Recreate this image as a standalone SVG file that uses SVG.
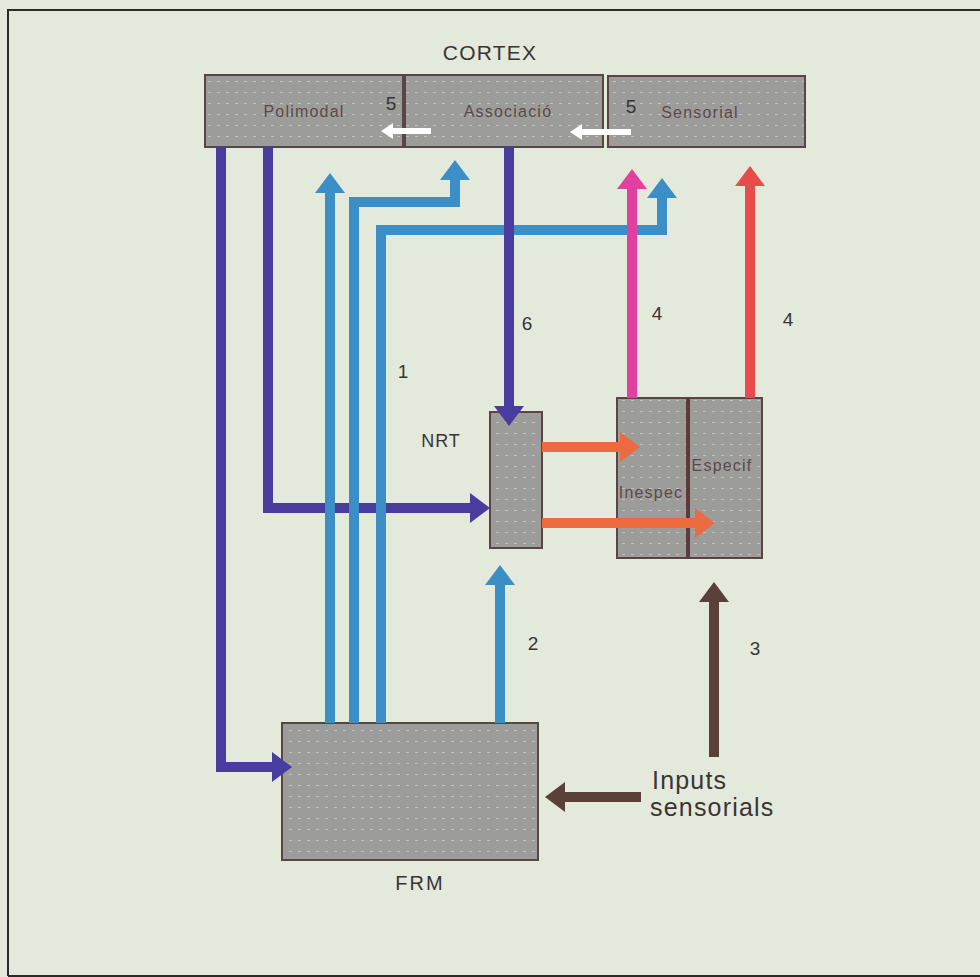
<svg xmlns="http://www.w3.org/2000/svg" width="980" height="977" viewBox="0 0 980 977">
<defs>
<style>
.box{fill:#9c9c9b;stroke:#5a4545;stroke-width:2}
.tex{fill:url(#dots);stroke:none}
.bt{font-family:"Liberation Sans",Arial,sans-serif;font-size:16px;letter-spacing:1.2px;fill:#5b4a48;text-anchor:middle}
.lbl{font-family:"Liberation Sans",Arial,sans-serif;fill:#3a3434;text-anchor:middle}
.lbs{font-family:"Liberation Sans",Arial,sans-serif;fill:#3a3434;text-anchor:start;font-size:25px;letter-spacing:1.2px}
.num{font-size:19px}
.ln{fill:none;stroke-width:10;stroke-linejoin:miter}
.pu{stroke:#4a3b9e}
.bl{stroke:#3b8fc6}
.mg{stroke:#e040a0}
.rd{stroke:#e84b4b}
.or{stroke:#ec6a40}
.br{stroke:#5a4038}
.wh{fill:none;stroke:#ffffff;stroke-width:6}
</style>
<pattern id="dots" width="9" height="11" patternUnits="userSpaceOnUse">
<rect x="1" y="4" width="3" height="1" fill="#ffffff" fill-opacity="0.35"/>
</pattern>
<marker id="hPu" markerUnits="userSpaceOnUse" markerWidth="20" markerHeight="30" viewBox="0 0 20 30" refX="0" refY="15" orient="auto"><path d="M0,0 L20,15 L0,30 z" fill="#4a3b9e"/></marker>
<marker id="hBl" markerUnits="userSpaceOnUse" markerWidth="20" markerHeight="30" viewBox="0 0 20 30" refX="0" refY="15" orient="auto"><path d="M0,0 L20,15 L0,30 z" fill="#3b8fc6"/></marker>
<marker id="hMg" markerUnits="userSpaceOnUse" markerWidth="20" markerHeight="30" viewBox="0 0 20 30" refX="0" refY="15" orient="auto"><path d="M0,0 L20,15 L0,30 z" fill="#e040a0"/></marker>
<marker id="hRd" markerUnits="userSpaceOnUse" markerWidth="20" markerHeight="30" viewBox="0 0 20 30" refX="0" refY="15" orient="auto"><path d="M0,0 L20,15 L0,30 z" fill="#e84b4b"/></marker>
<marker id="hOr" markerUnits="userSpaceOnUse" markerWidth="20" markerHeight="30" viewBox="0 0 20 30" refX="0" refY="15" orient="auto"><path d="M0,0 L20,15 L0,30 z" fill="#ec6a40"/></marker>
<marker id="hBr" markerUnits="userSpaceOnUse" markerWidth="20" markerHeight="30" viewBox="0 0 20 30" refX="0" refY="15" orient="auto"><path d="M0,0 L20,15 L0,30 z" fill="#5a4038"/></marker>
<marker id="hWh" markerUnits="userSpaceOnUse" markerWidth="12" markerHeight="16" viewBox="0 0 12 16" refX="0" refY="8" orient="auto"><path d="M0,0 L12,8 L0,16 z" fill="#ffffff"/></marker>
</defs>
<rect x="0" y="0" width="980" height="977" fill="#e3eadc"/>
<path d="M8,976 V10 H980" fill="none" stroke="#2a2a2a" stroke-width="2"/>
<path d="M8,976 H980" fill="none" stroke="#2a2a2a" stroke-width="2"/>

<text class="lbl" x="490" y="60" font-size="21" letter-spacing="1.2">CORTEX</text>

<g id="polimodal">
<rect class="box" x="205" y="75" width="198" height="72"/>
<rect class="tex" x="206" y="76" width="196" height="70"/>
<text class="bt" x="304" y="117">Polimodal</text>
</g>
<g id="associacio">
<rect class="box" x="405" y="75" width="198" height="72"/>
<rect class="tex" x="406" y="76" width="196" height="70"/>
<text class="bt" x="508" y="117">Associació</text>
</g>
<g id="sensorial">
<rect class="box" x="608" y="76" width="197" height="71"/>
<rect class="tex" x="609" y="77" width="195" height="69"/>
<text class="bt" x="700" y="118">Sensorial</text>
</g>
<g id="labels-5">
<text class="lbl num" x="391" y="110" font-size="21">5</text>
<text class="lbl num" x="631" y="113" font-size="21">5</text>
</g>

<g id="nrt">
<rect class="box" x="490" y="412" width="52" height="136"/>
<rect class="tex" x="491" y="413" width="50" height="134"/>
<text class="lbl" x="441" y="447" font-size="18" letter-spacing="1">NRT</text>
</g>

<g id="inespec">
<rect class="box" x="617" y="398" width="71" height="160"/>
<rect class="tex" x="618" y="399" width="69" height="158"/>
<text class="bt" x="651" y="498">Inespec</text>
</g>
<g id="especif">
<rect class="box" x="688" y="398" width="74" height="160"/>
<rect class="tex" x="690" y="399" width="71" height="158"/>
<line x1="688" y1="398" x2="688" y2="558" stroke="#5a3a3a" stroke-width="4"/>
<text class="bt" x="722" y="471">Especif</text>
</g>

<g id="frm">
<rect class="box" x="282" y="723" width="256" height="137"/>
<rect class="tex" x="283" y="724" width="254" height="135"/>
<text class="lbl" x="420" y="890" font-size="20" letter-spacing="2">FRM</text>
</g>

<g id="inputs">
<text class="lbs" x="652" y="789">Inputs</text>
<text class="lbs" x="650" y="816">sensorials</text>
</g>

<g id="connectors">
<path class="wh" d="M431,131 H393" marker-end="url(#hWh)"/>
<path class="wh" d="M631,132 H582" marker-end="url(#hWh)"/>
<path class="ln pu" d="M221,147 V767 H272" marker-end="url(#hPu)"/>
<path class="ln pu" d="M268,147 V508 H470" marker-end="url(#hPu)"/>
<path class="ln bl" d="M330,723 V193" marker-end="url(#hBl)"/>
<path class="ln bl" d="M354,723 V202 H455 V180" marker-end="url(#hBl)"/>
<path class="ln bl" d="M381,723 V230 H662 V198" marker-end="url(#hBl)"/>
<path class="ln bl" d="M500,723 V585" marker-end="url(#hBl)"/>
<path class="ln pu" d="M509,147 V406" marker-end="url(#hPu)"/>
<path class="ln mg" d="M632,398 V189" marker-end="url(#hMg)"/>
<path class="ln rd" d="M750,398 V186" marker-end="url(#hRd)"/>
<path class="ln or" d="M542,447 H620" marker-end="url(#hOr)"/>
<path class="ln or" d="M542,523 H695" marker-end="url(#hOr)"/>
<path class="ln br" d="M714,757 V602" marker-end="url(#hBr)"/>
<path class="ln br" d="M641,797 H565" marker-end="url(#hBr)"/>
</g>

<g id="numbers">
<text class="lbl num" x="403" y="378">1</text>
<text class="lbl num" x="527" y="330">6</text>
<text class="lbl num" x="657" y="320">4</text>
<text class="lbl num" x="788" y="326">4</text>
<text class="lbl num" x="533" y="650">2</text>
<text class="lbl num" x="755" y="655">3</text>
</g>
</svg>
